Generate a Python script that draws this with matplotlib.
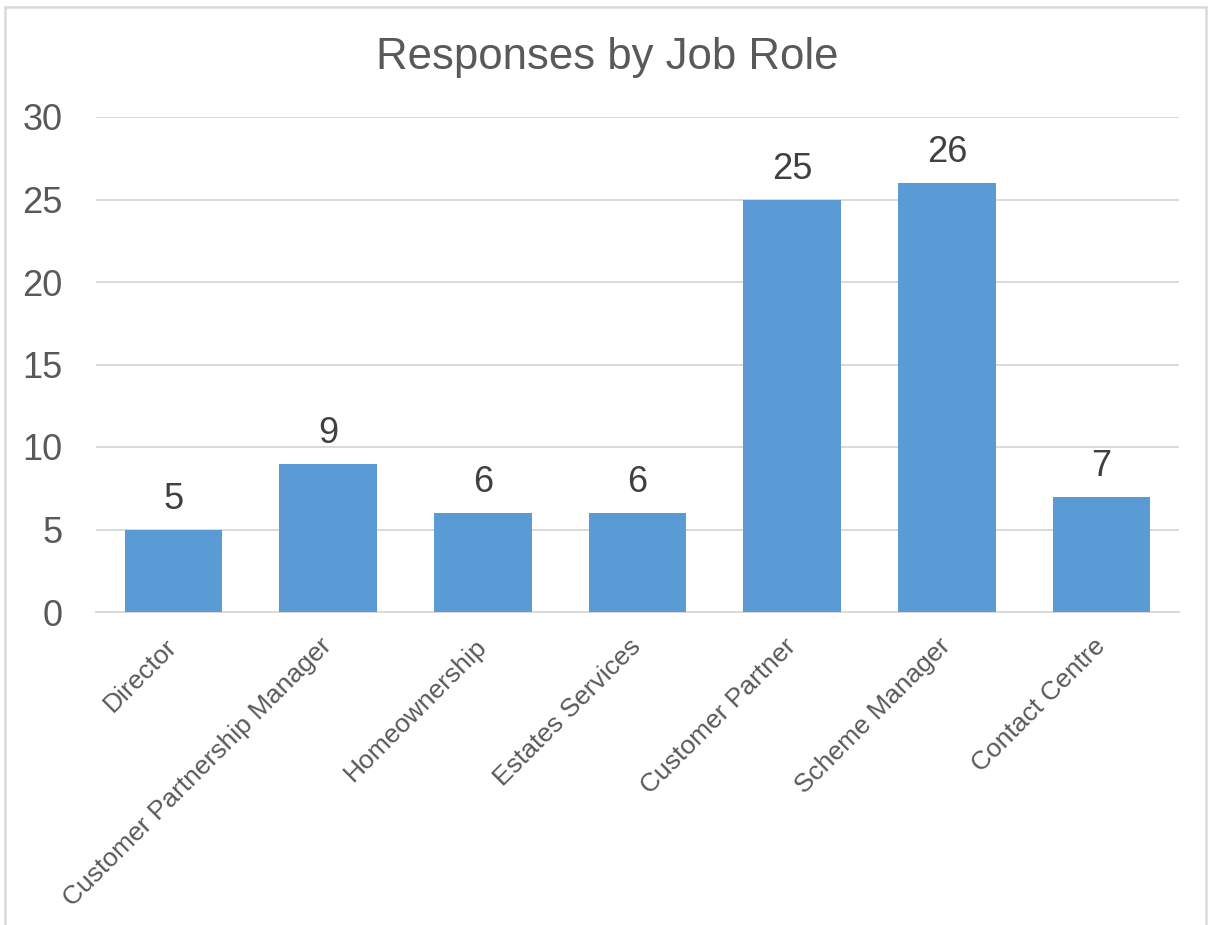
import matplotlib.pyplot as plt
from matplotlib.patches import Rectangle

# data
roles = ['Director', 'Customer Partnership Manager', 'Homeownership',
         'Estates Services', 'Customer Partner', 'Scheme Manager', 'Contact Centre']
responses = [5, 9, 6, 6, 25, 26, 7]
y_ticks = [0, 5, 10, 15, 20, 25, 30]

plt.rcParams['font.family'] = ['Liberation Sans', 'DejaVu Sans']
grey = '#595959'
grid_col = '#D9D9D9'
bar_col = '#5B9BD5'

fig = plt.figure(figsize=(12.08, 9.25), dpi=100)
ax = fig.add_axes([96 / 1208, 1 - 612 / 925, (1179 - 96) / 1208, (612 - 117) / 925])

x = range(len(roles))
bars = ax.bar(x, responses, width=0.63, color=bar_col, zorder=3)

for xi, v in zip(x, responses):
    ax.annotate(str(v), (xi, v), xytext=(0, 9), textcoords='offset points',
                ha='center', va='bottom', fontsize=26, color='#404040')

ax.set_xlim(-0.5, len(roles) - 0.5)
ax.set_ylim(0, 30)
ax.set_yticks(y_ticks)
ax.set_yticklabels([str(t) for t in y_ticks], fontsize=26, color=grey)
ax.tick_params(axis='y', length=0, pad=24)
ax.yaxis.grid(True, color=grid_col, linewidth=1.4, zorder=0)
ax.set_axisbelow(True)

ax.set_xticks(list(x))
ax.set_xticklabels(roles, rotation=45, ha='right', va='center',
                   rotation_mode='anchor', fontsize=19, color=grey)
ax.tick_params(axis='x', length=0, pad=22)

for s in ['top', 'right', 'left']:
    ax.spines[s].set_visible(False)
ax.spines['bottom'].set_color(grid_col)
ax.spines['bottom'].set_linewidth(1.4)

fig.text(607 / 1208, 1 - 57 / 925, 'Responses by Job Role', ha='center', va='center',
         fontsize=31.5, color=grey)

# light chart border (bottom edge cut off in the original)
fig.patches.append(Rectangle((5 / 1208, -0.05), 1201 / 1208, 1.05 - 7 / 925,
                             transform=fig.transFigure, fill=False,
                             edgecolor=grid_col, linewidth=1.8))

fig.savefig('out.png', dpi=100)
